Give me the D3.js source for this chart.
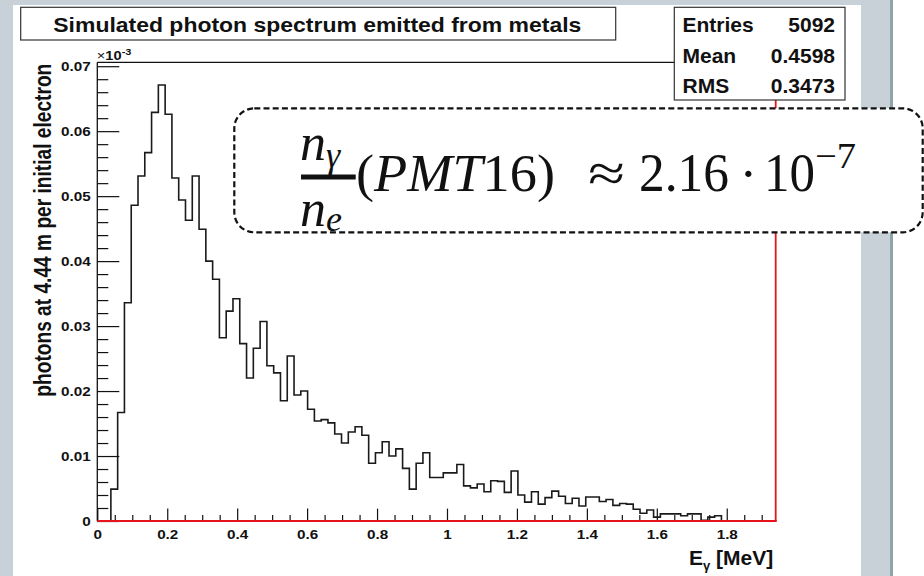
<!DOCTYPE html>
<html>
<head>
<meta charset="utf-8">
<script src="https://cdn.jsdelivr.net/npm/d3@7"></script>
<style>
  html, body { margin: 0; padding: 0; background: #fff; }
  svg { display: block; }
</style>
</head>
<body>
<svg id="chart" width="924" height="576"></svg>
<script>
// ---- data -------------------------------------------------------------
// Histogram: 100 bins of width 0.0194 MeV covering 0 .. 1.94 MeV
const binWidth = 0.0194;
const photonsPerBin = [
  0, 0, 0.0049, 0.0167, 0.0336, 0.0486, 0.0531, 0.0567, 0.0629, 0.0671,
  0.0626, 0.0528, 0.0494, 0.0463, 0.0531, 0.0449, 0.0400, 0.0372, 0.0282, 0.0323,
  0.0342, 0.0273, 0.0220, 0.0266, 0.0307, 0.0239, 0.0228, 0.0185, 0.0254, 0.0194,
  0.0200, 0.0172, 0.0154, 0.0156, 0.0151, 0.0134, 0.0120, 0.0137, 0.0145, 0.0132,
  0.0089, 0.0105, 0.0122, 0.0100, 0.0111, 0.0081, 0.0049, 0.0089, 0.0105, 0.0067,
  0.0067, 0.0074, 0.0074, 0.0087, 0.0054, 0.0051, 0.0057, 0.0045, 0.0062, 0.0061,
  0.0044, 0.0077, 0.0040, 0.0029, 0.0045, 0.0026, 0.0036, 0.0046, 0.0038, 0.0027,
  0.0035, 0.0023, 0.0037, 0.0037, 0.0030, 0.0033, 0.0024, 0.0027, 0.0026, 0.0018,
  0.0012, 0.0017, 0.0006, 0.0011, 0.0011, 0.0011, 0.0008, 0.0011, 0.0011, 0.0001,
  0.0006, 0.0008, 0, 0, 0, 0, 0, 0, 0, 0
];

const xTickValues = [0, 0.2, 0.4, 0.6, 0.8, 1, 1.2, 1.4, 1.6, 1.8];
const xTickLabels = ["0", "0.2", "0.4", "0.6", "0.8", "1", "1.2", "1.4", "1.6", "1.8"];
const yTickValues = [0, 0.01, 0.02, 0.03, 0.04, 0.05, 0.06, 0.07];
const yTickLabels = ["0", "0.01", "0.02", "0.03", "0.04", "0.05", "0.06", "0.07"];

const titleText = "Simulated photon spectrum emitted from metals";
const yTitle = "photons at 4.44 m per initial electron";
const statsNames = ["Entries", "Mean", "RMS"];
const statsValues = ["5092", "0.4598", "0.3473"];

// ---- setup ------------------------------------------------------------
const W = 924, H = 576;
const svg = d3.select("#chart");
const sansFont = "'Liberation Sans', Arial, Helvetica, sans-serif";
const mathFont = "'Liberation Serif', 'Times New Roman', serif";
const ink = "#111";

// slide backdrop
svg.append("rect").attr("width", W).attr("height", H).attr("fill", "#c7d1d7");
svg.append("rect").attr("x", 13).attr("y", 5).attr("width", 848).attr("height", H - 5).attr("fill", "#fff");
svg.append("rect").attr("x", 890).attr("y", 0).attr("width", 3).attr("height", H).attr("fill", "#8fa3a9");
svg.append("rect").attr("x", 893).attr("y", 0).attr("width", W - 893).attr("height", H).attr("fill", "#fff");

// plot frame
const frame = { left: 97.3, right: 775.7, top: 62.3, bottom: 521 };
const x = d3.scaleLinear().domain([0, 1.94]).range([frame.left, frame.right]);
const y = d3.scaleLinear().domain([0, 0.0706]).range([frame.bottom, frame.top]);

// histogram outline
const n = photonsPerBin.length;
const pts = [[0, 0]];
photonsPerBin.forEach((v, i) => pts.push([i * binWidth, v]));
pts.push([n * binWidth, photonsPerBin[n - 1]]);
pts.push([n * binWidth, 0]);
const line = d3.line().x(d => x(d[0])).y(d => y(d[1])).curve(d3.curveStepAfter);
svg.append("path")
  .attr("d", line(pts))
  .attr("fill", "none")
  .attr("stroke", "#1a1a1a")
  .attr("stroke-width", 1.6);

// frame lines: black top / left, red bottom / right
svg.append("line").attr("x1", frame.left).attr("x2", frame.right)
  .attr("y1", frame.top).attr("y2", frame.top).attr("stroke", ink).attr("stroke-width", 1.2);
svg.append("line").attr("x1", frame.left).attr("x2", frame.left)
  .attr("y1", frame.top).attr("y2", frame.bottom).attr("stroke", ink).attr("stroke-width", 1.3);

// axes
function styleAxis(g) {
  g.attr("font-family", sansFont).attr("font-size", 12.5).attr("font-weight", "bold");
  g.select(".domain").remove();
  g.selectAll(".tick line").attr("stroke", ink).attr("stroke-width", 1.2);
  g.selectAll(".tick text").attr("fill", ink);
}

const xMinor = d3.range(1, 39).filter(i => i % 4 !== 0).map(i => i * 0.05);
const yMinor = d3.range(1, 36).filter(i => i % 5 !== 0).map(i => i * 0.002);

const gxMinor = svg.append("g").attr("transform", `translate(0,${frame.bottom})`)
  .call(d3.axisBottom(x).tickValues(xMinor).tickSizeInner(-6).tickSizeOuter(0).tickFormat(""));
styleAxis(gxMinor);

const gx = svg.append("g").attr("transform", `translate(0,${frame.bottom})`)
  .call(d3.axisBottom(x).tickValues(xTickValues).tickSizeInner(-12.4).tickSizeOuter(0)
    .tickFormat((d, i) => xTickLabels[i]));
styleAxis(gx);
gx.selectAll(".tick text").attr("y", 0).attr("dy", null)
  .attr("transform", "translate(0,18) scale(1.22,1)");

const gyMinor = svg.append("g").attr("transform", `translate(${frame.left},0)`)
  .call(d3.axisLeft(y).tickValues(yMinor).tickSizeInner(-11).tickSizeOuter(0).tickFormat(""));
styleAxis(gyMinor);

const gy = svg.append("g").attr("transform", `translate(${frame.left},0)`)
  .call(d3.axisLeft(y).tickValues(yTickValues).tickSizeInner(-22).tickSizeOuter(0)
    .tickFormat((d, i) => yTickLabels[i]));
styleAxis(gy);
gy.selectAll(".tick text").attr("x", 0).attr("dy", null).attr("text-anchor", "end")
  .attr("transform", "translate(-6.5,4.5) scale(1.22,1)");

// red outline along the x axis and right edge
svg.append("line").attr("x1", frame.left).attr("x2", frame.right + 1)
  .attr("y1", frame.bottom).attr("y2", frame.bottom).attr("stroke", "#e8141c").attr("stroke-width", 2);
svg.append("line").attr("x1", frame.right).attr("x2", frame.right)
  .attr("y1", frame.top).attr("y2", frame.bottom).attr("stroke", "#e8141c").attr("stroke-width", 1.8);

// exponent marker above the y axis
const expo = svg.append("text")
  .attr("font-family", sansFont).attr("font-size", 12).attr("fill", ink)
  .attr("transform", `translate(${frame.left - 0.5},59.5) scale(1.22,1)`);
expo.append("tspan").text("\u00d7");
expo.append("tspan").attr("font-weight", "bold").text("10");
expo.append("tspan").attr("font-weight", "bold").attr("font-size", 9).attr("dy", -5).text("-3");

// axis titles
svg.append("text")
  .attr("font-family", sansFont).attr("font-weight", "bold").attr("font-size", 19.5).attr("fill", ink)
  .attr("textLength", 333).attr("lengthAdjust", "spacingAndGlyphs")
  .attr("transform", "translate(50.5,396.7) scale(1.22,1) rotate(-90)")
  .text(yTitle);

const xt = svg.append("text")
  .attr("font-family", sansFont).attr("font-weight", "bold").attr("font-size", 21).attr("fill", ink)
  .attr("x", frame.right - 2.5).attr("y", 565).attr("text-anchor", "end");
xt.append("tspan").text("E");
xt.append("tspan").attr("font-size", 13).attr("dy", 5).text("\u03b3");
xt.append("tspan").attr("dy", -5).text(" [MeV]");

// title box
svg.append("rect").attr("x", 20.7).attr("y", 7.3).attr("width", 595).attr("height", 32.7)
  .attr("fill", "#fff").attr("stroke", "#333").attr("stroke-width", 1.2);
svg.append("text")
  .attr("font-family", sansFont).attr("font-weight", "bold").attr("font-size", 21).attr("fill", ink)
  .attr("x", 53.3).attr("y", 31.5)
  .attr("textLength", 528).attr("lengthAdjust", "spacingAndGlyphs")
  .text(titleText);

// statistics box
const stats = svg.append("g").attr("font-family", sansFont).attr("font-weight", "bold")
  .attr("font-size", 21).attr("fill", ink);
stats.append("rect").attr("x", 674.3).attr("y", 7.3).attr("width", 170.7).attr("height", 92.7)
  .attr("fill", "#fff").attr("stroke", "#333").attr("stroke-width", 1.2);
statsNames.forEach((name, i) => {
  const by = 32 + i * 30.5;
  stats.append("text").attr("x", 682.5).attr("y", by).text(name);
  stats.append("text").attr("x", 835).attr("y", by).attr("text-anchor", "end").text(statsValues[i]);
});

// ratio annotation in a dashed rounded box (formula kept inside the box)
const box = { x: 234.3, y: 108.3, w: 688.4, h: 124, r: 20 };
svg.append("defs").append("clipPath").attr("id", "boxClip")
  .append("rect").attr("x", box.x + 1).attr("y", box.y + 1)
  .attr("width", box.w - 2).attr("height", box.h - 2).attr("rx", box.r).attr("ry", box.r);
svg.append("rect").attr("x", box.x).attr("y", box.y).attr("width", box.w).attr("height", box.h)
  .attr("rx", box.r).attr("ry", box.r)
  .attr("fill", "#fff").attr("stroke", ink).attr("stroke-width", 2.2).attr("stroke-dasharray", "6,3.2");

const fm = svg.append("g").attr("font-family", mathFont).attr("fill", ink)
  .attr("clip-path", "url(#boxClip)");
const num = fm.append("text").attr("x", 300).attr("y", 160).attr("font-size", 52).attr("font-style", "italic");
num.append("tspan").text("n");
num.append("tspan").attr("font-size", 36).attr("dy", 7).text("\u03b3");
fm.append("rect").attr("x", 301).attr("y", 174.5).attr("width", 54.7).attr("height", 5);
const den = fm.append("text").attr("x", 300).attr("y", 226).attr("font-size", 52).attr("font-style", "italic");
den.append("tspan").text("n");
den.append("tspan").attr("font-size", 36).attr("dy", 5).text("e");

const main = fm.append("text").attr("x", 356).attr("y", 191).attr("font-size", 53)
  .attr("textLength", 199).attr("lengthAdjust", "spacingAndGlyphs");
main.append("tspan").text("(");
main.append("tspan").attr("font-style", "italic").text("PMT");
main.append("tspan").text("16)");
fm.append("text").attr("x", 588).attr("y", 191).attr("font-size", 53)
  .attr("textLength", 37).attr("lengthAdjust", "spacingAndGlyphs").text("\u2248");
fm.append("text").attr("x", 639).attr("y", 191).attr("font-size", 54)
  .attr("textLength", 90).attr("lengthAdjust", "spacingAndGlyphs").text("2.16");
fm.append("text").attr("x", 748.3).attr("y", 191).attr("font-size", 53).attr("text-anchor", "middle").text("\u00b7");
fm.append("text").attr("x", 764).attr("y", 191).attr("font-size", 54)
  .attr("textLength", 51).attr("lengthAdjust", "spacingAndGlyphs").text("10");
fm.append("text").attr("x", 815).attr("y", 168).attr("font-size", 36)
  .attr("textLength", 41).attr("lengthAdjust", "spacingAndGlyphs").text("\u22127");
</script>
</body>
</html>
